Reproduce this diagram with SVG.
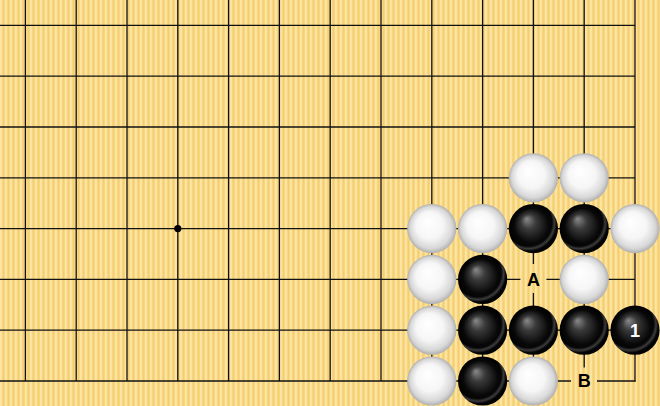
<svg xmlns="http://www.w3.org/2000/svg" xmlns:xlink="http://www.w3.org/1999/xlink" width="660" height="406" viewBox="0 0 660 406">
  <defs>
    <pattern id="wood" patternUnits="userSpaceOnUse" width="5" height="10">
      <rect width="5" height="10" fill="#F8D67F"/>
      <rect x="0" width="1.8" height="10" fill="#FCE6A6"/>
      <rect x="3.2" width="0.8" height="10" fill="#F4CC6C"/>
    </pattern>
    <radialGradient id="gBlack" cx="0.5" cy="0.5" r="0.5" fx="0.36" fy="0.3">
      <stop offset="0" stop-color="#8a8a8a"/>
      <stop offset="0.3" stop-color="#3a3a3a"/>
      <stop offset="0.7" stop-color="#080808"/>
      <stop offset="1" stop-color="#000"/>
    </radialGradient>
    <radialGradient id="gRefl" cx="0.4" cy="0.38" r="0.66">
      <stop offset="0" stop-color="#fff" stop-opacity="0"/>
      <stop offset="0.72" stop-color="#fff" stop-opacity="0"/>
      <stop offset="0.8" stop-color="#fff" stop-opacity="0.22"/>
      <stop offset="0.88" stop-color="#fff" stop-opacity="0"/>
    </radialGradient>
    <radialGradient id="gWhite" cx="0.5" cy="0.5" r="0.5" fx="0.4" fy="0.35">
      <stop offset="0" stop-color="#ffffff"/>
      <stop offset="0.55" stop-color="#f6f6f6"/>
      <stop offset="0.85" stop-color="#d8d8d8"/>
      <stop offset="1" stop-color="#b0b0b0"/>
    </radialGradient>
    <g id="b"><circle r="24.6" fill="url(#gBlack)"/><circle r="24.6" fill="url(#gRefl)"/></g>
    <circle id="w" r="24.6" fill="url(#gWhite)"/>
  </defs>
  <style>
    .grid line { stroke: #111; stroke-width: 1.3; }
    .lbl { font-family: "Liberation Sans", Arial, sans-serif; font-weight: bold; font-size: 18px; text-anchor: middle; }
  </style>
  <rect width="660" height="406" fill="url(#wood)"/>
  <g id="connectors" class="grid">
    <line x1="25.4" y1="0" x2="25.4" y2="381"/>
    <line x1="76.2" y1="0" x2="76.2" y2="381"/>
    <line x1="127" y1="0" x2="127" y2="381"/>
    <line x1="177.8" y1="0" x2="177.8" y2="381"/>
    <line x1="228.6" y1="0" x2="228.6" y2="381"/>
    <line x1="279.4" y1="0" x2="279.4" y2="381"/>
    <line x1="330.2" y1="0" x2="330.2" y2="381"/>
    <line x1="381" y1="0" x2="381" y2="381"/>
    <line x1="431.8" y1="0" x2="431.8" y2="381"/>
    <line x1="482.6" y1="0" x2="482.6" y2="381"/>
    <line x1="533.4" y1="0" x2="533.4" y2="381"/>
    <line x1="584.2" y1="0" x2="584.2" y2="381"/>
    <line x1="635" y1="0" x2="635" y2="381.6"/>
    <line x1="0" y1="25.4" x2="635" y2="25.4"/>
    <line x1="0" y1="76.2" x2="635" y2="76.2"/>
    <line x1="0" y1="127" x2="635" y2="127"/>
    <line x1="0" y1="177.8" x2="635" y2="177.8"/>
    <line x1="0" y1="228.6" x2="635" y2="228.6"/>
    <line x1="0" y1="279.4" x2="635" y2="279.4"/>
    <line x1="0" y1="330.2" x2="635" y2="330.2"/>
    <line x1="0" y1="381" x2="635.6" y2="381"/>
  </g>
  <g id="star">
    <circle cx="177.8" cy="228.6" r="3.6" fill="#000"/>
  </g>
  <g id="stones">
    <g id="w-10-3"><use xlink:href="#w" x="533.4" y="177.8"/></g>
    <g id="w-11-3"><use xlink:href="#w" x="584.2" y="177.8"/></g>
    <g id="w-8-4"><use xlink:href="#w" x="431.8" y="228.6"/></g>
    <g id="w-9-4"><use xlink:href="#w" x="482.6" y="228.6"/></g>
    <g id="b-10-4"><use xlink:href="#b" x="533.4" y="228.6"/></g>
    <g id="b-11-4"><use xlink:href="#b" x="584.2" y="228.6"/></g>
    <g id="w-12-4"><use xlink:href="#w" x="635" y="228.6"/></g>
    <g id="w-8-5"><use xlink:href="#w" x="431.8" y="279.4"/></g>
    <g id="b-9-5"><use xlink:href="#b" x="482.6" y="279.4"/></g>
    <g id="w-11-5"><use xlink:href="#w" x="584.2" y="279.4"/></g>
    <g id="w-8-6"><use xlink:href="#w" x="431.8" y="330.2"/></g>
    <g id="b-9-6"><use xlink:href="#b" x="482.6" y="330.2"/></g>
    <g id="b-10-6"><use xlink:href="#b" x="533.4" y="330.2"/></g>
    <g id="b-11-6"><use xlink:href="#b" x="584.2" y="330.2"/></g>
    <g id="b-12-6"><use xlink:href="#b" x="635" y="330.2"/><text class="lbl" x="635" y="336.8" fill="#fff">1</text></g>
    <g id="w-8-7"><use xlink:href="#w" x="431.8" y="381"/></g>
    <g id="b-9-7"><use xlink:href="#b" x="482.6" y="381"/></g>
    <g id="w-10-7"><use xlink:href="#w" x="533.4" y="381"/></g>
  </g>
  <g id="label-A">
    <rect x="520.4" y="264" width="26" height="29" fill="url(#wood)"/>
    <text class="lbl" x="533.4" y="285.8" fill="#000">A</text>
  </g>
  <g id="label-B">
    <rect x="571" y="367.5" width="26" height="27" fill="url(#wood)"/>
    <text class="lbl" x="584.2" y="387.4" fill="#000">B</text>
  </g>
</svg>
